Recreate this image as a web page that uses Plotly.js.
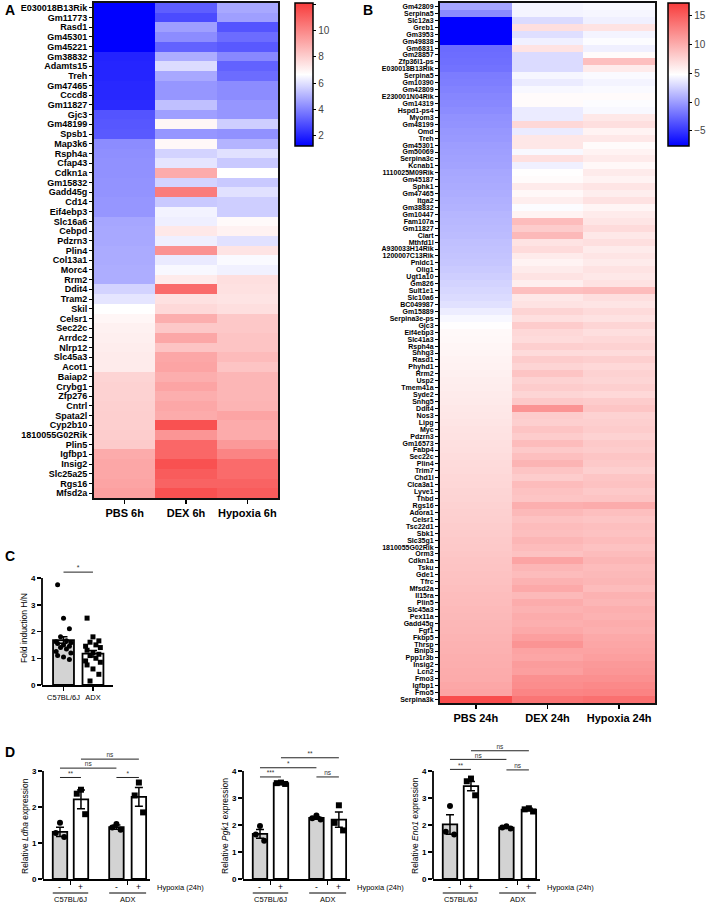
<!DOCTYPE html>
<html><head><meta charset="utf-8">
<script src="https://cdn.plot.ly/plotly-3.0.1.min.js"></script>
<style>html,body{margin:0;padding:0;background:#fff;}#chart{width:709px;height:904px;}</style>
</head><body><div id="chart"></div>
<script>
// ---------------- DATA ----------------
const colsA = ['PBS 6h', 'DEX 6h', 'Hypoxia 6h'];
const genesA = ['E030018B13Rik','Gm11773','Rasd1','Gm45301','Gm45221','Gm38832','Adamts15','Treh','Gm47465','Cccd8','Gm11827','Gjc3','Gm48199','Spsb1','Map3k6','Rsph4a','Cfap43','Cdkn1a','Gm15832','Gadd45g','Cd14','Eif4ebp3','Slc16a6','Cebpd','Pdzrn3','Plin4','Col13a1','Morc4','Rrm2','Ddit4','Tram2','Skil','Celsr1','Sec22c','Arrdc2','Nlrp12','Slc45a3','Acot1','Baiap2','Crybg1','Zfp276','Cntrl','Spata2l','Cyp2b10','1810055G02Rik','Plin5','Igfbp1','Insig2','Slc25a25','Rgs16','Mfsd2a'];
const pbs6h = [1.2,1.2,1.2,1.2,1.2,1.95,2.0,2.0,2.05,2.05,2.1,3.0,3.05,3.1,4.2,4.25,4.3,4.3,4.35,4.35,4.4,4.4,4.75,4.8,4.8,4.85,4.85,4.9,4.9,5.7,6.1,6.65,6.9,7.05,7.1,7.15,7.2,7.2,7.85,7.9,7.9,7.95,8.0,8.0,8.05,8.1,9.0,9.1,9.1,9.2,9.3];
const dex6h = [3.2,2.8,4.6,4.2,3.3,4.9,5.9,4.8,4.4,4.4,5.3,4.6,6.9,4.4,6.85,5.7,6.1,9.0,5.7,10.3,5.5,6.4,6.3,7.3,6.3,9.7,6.2,6.5,7.2,10.8,7.5,7.7,8.9,8.2,9.1,8.3,9.1,9.2,8.9,9.2,8.9,9.1,9.0,11.5,9.6,10.9,10.9,11.5,11.2,11.0,11.5];
const hyp6h = [4.8,4.6,3.0,3.5,3.1,4.1,3.3,3.5,4.2,4.2,4.4,4.4,5.6,4.3,5.05,6.0,5.5,6.65,5.5,6.0,5.6,5.6,6.8,7.0,6.0,7.4,6.55,6.35,7.55,7.5,7.4,7.55,8.2,8.2,8.3,8.3,8.55,8.3,8.7,8.7,8.7,8.75,9.2,9.0,9.0,9.5,10.1,10.8,10.8,11.0,11.2];

const colsB = ['PBS 24h', 'DEX 24h', 'Hypoxia 24h'];
const genesB = ['Gm42809','Serpina5','Slc12a3','Greb1','Gm3953','Gm49838','Gm6831','Gm28857','Zfp36l1-ps','E030018B13Rik','Serpina5','Gm10390','Gm42809','E230001N04Rik','Gm14319','Hspd1-ps4','Myom3','Gm48199','Omd','Treh','Gm45301','Gm50069','Serpina3c','Kcnab1','1110025M09Rik','Gm45187','Sphk1','Gm47465','Itga2','Gm38832','Gm10447','Fam107a','Gm11827','Ciart','Mthfd1l','A930033H14Rik','1200007C13Rik','Pnldc1','Olig1','Ugt1a10','Gm826','Sult1e1','Slc10a6','BC049987','Gm15889','Serpina3e-ps','Gjc3','Eif4ebp3','Slc41a3','Rsph4a','Snhg3','Rasd1','Phyhd1','Rrm2','Usp2','Tmem41a','Syde2','Snhg5','Ddit4','Nos3','Lipg','Myc','Pdzrn3','Gm16573','Fabp4','Sec22c','Plin4','Trim7','Chd1l','Clca3a1','Lyve1','Thbd','Rgs16','Adora1','Celsr1','Tsc22d1','Sbk1','Slc35g1','1810055G02Rik','Orm3','Cdkn1a','Tsku','Gde1','Tfrc','Mfsd2a','Il15ra','Plin5','Slc45a3','Pex11a','Gadd45g','Fgf1','Fkbp5','Thrsp','Bnip3','Ppp1r3b','Insig2','Lcn2','Fmo3','Igfbp1','Fmo5','Serpina3k'];
const pbs24h = [0.4,-0.9,-8.5,-8.5,-8.5,-8.5,-2.4,-2.3,-2.2,-2.1,-1.6,-1.5,-1.3,-1.1,-1.0,-0.8,-0.6,-0.5,-0.3,-0.2,0.0,0.1,0.2,0.3,0.5,0.6,0.7,0.8,0.9,1.0,1.2,1.3,1.4,1.5,1.7,1.8,1.9,2.0,2.2,2.4,2.6,2.8,3.0,3.3,3.9,4.4,4.8,5.1,5.2,5.3,5.4,5.5,5.6,5.7,5.8,5.9,6.0,6.1,6.2,6.3,6.4,6.5,6.6,6.7,6.8,6.9,7.0,7.1,7.2,7.3,7.4,7.5,7.6,7.7,7.8,7.9,8.0,8.1,8.2,8.3,8.4,8.5,8.6,8.7,8.8,8.9,9.0,9.1,9.2,9.3,9.4,9.5,9.6,9.7,9.8,9.9,10.0,10.1,10.3,10.5,16.0];
const dex24h = [4.3,4.2,3.0,6.8,3.2,4.0,6.5,3.0,3.0,3.0,4.3,3.8,4.4,5.0,5.0,3.8,3.8,7.2,3.8,6.3,6.3,4.4,6.7,4.0,4.8,5.0,6.0,5.2,5.8,4.6,5.5,9.0,8.0,9.2,6.5,7.0,6.0,5.5,6.0,6.5,5.8,8.8,6.2,6.5,7.5,6.8,8.0,7.2,7.0,7.8,7.0,8.0,7.5,8.5,7.6,8.0,7.4,8.2,11.5,8.0,7.8,8.5,8.0,9.0,8.2,8.8,9.5,8.5,8.0,9.0,8.6,8.4,9.8,9.2,8.6,9.0,8.8,9.4,9.0,8.6,10.5,9.4,9.0,9.6,10.2,9.2,10.0,9.6,10.0,9.8,10.2,10.8,11.5,10.6,10.4,11.0,10.8,11.8,12.0,12.5,13.5];
const hyp24h = [4.5,4.3,4.0,6.5,4.2,4.6,4.0,5.0,8.8,6.0,4.5,4.2,4.5,5.0,4.6,4.4,6.2,6.8,5.5,6.2,5.0,5.5,6.0,5.2,6.0,5.5,6.4,5.8,6.6,5.4,6.0,6.4,7.0,6.2,6.8,6.0,6.4,6.0,6.5,6.2,6.6,9.0,6.8,6.4,7.0,6.6,7.4,6.8,7.2,7.6,7.0,7.8,7.2,7.6,7.4,7.8,7.2,8.0,8.4,7.6,7.8,8.0,7.6,8.2,8.0,8.4,8.2,7.8,8.4,8.6,8.2,8.5,10.0,8.8,8.4,8.8,8.6,9.0,8.6,9.0,9.4,9.0,9.2,9.4,9.0,9.6,9.4,9.8,9.6,10.0,9.8,10.2,10.4,10.6,10.8,11.2,11.4,11.8,12.2,12.6,13.8];

// Panel C
const cGroups = ['C57BL/6J', 'ADX'];
const cMean = [1.68, 1.17];
const cSem = [0.12, 0.12];
const cPtsC57 = [3.75,2.5,2.1,1.8,1.65,1.62,1.58,1.55,1.5,1.45,1.4,1.35,1.25,1.2,1.1,1.05,0.95];
const cPtsADX = [2.5,1.8,1.65,1.6,1.5,1.45,1.4,1.3,1.2,1.15,1.1,1.0,0.9,0.85,0.75,0.6,0.4,0.15];
const cSigText = ['*'];
const cSigY = [4.22];

// Panel D
const dHypoxia = ['-', '+', '-', '+'];
const dStrains = ['C57BL/6J', 'ADX'];
const ldhaMean = [1.31, 2.21, 1.44, 2.28];
const ldhaSem = [0.13, 0.26, 0.06, 0.26];
const ldhaPts = [[1.56,1.28,1.17],[2.48,2.37,1.8],[1.53,1.43,1.37],[2.68,2.32,1.85]];
const ldhaSigFrom = [0, 0, 1, 2], ldhaSigTo = [1, 2, 3, 3];
const ldhaSigY = [2.82, 3.08, 3.33, 2.82];
const ldhaSigText = ['**', 'ns', 'ns', '*'];

const pgk1Mean = [1.67, 3.55, 2.26, 2.2];
const pgk1Sem = [0.16, 0.03, 0.05, 0.28];
const pgk1Pts = [[1.96,1.65,1.42],[3.57,3.55,3.52],[2.35,2.25,2.2],[2.73,2.08,1.8]];
const pgk1SigFrom = [0, 0, 1, 2], pgk1SigTo = [1, 2, 3, 3];
const pgk1SigY = [3.78, 4.12, 4.49, 3.78];
const pgk1SigText = ['***', '*', '**', 'ns'];

const eno1Mean = [2.02, 3.44, 1.9, 2.57];
const eno1Sem = [0.36, 0.17, 0.03, 0.05];
const eno1Pts = [[2.7,1.75,1.65],[3.72,3.62,3.1],[1.95,1.91,1.87],[2.62,2.58,2.5]];
const eno1SigFrom = [0, 0, 1, 2], eno1SigTo = [1, 2, 3, 3];
const eno1SigY = [4.06, 4.43, 4.75, 4.04];
const eno1SigText = ['**', 'ns', 'ns', 'ns'];

// ---------------- LAYOUT HELPERS ----------------
const W = 709, H = 904;
const X = p => p / W;
const Y = p => 1 - p / H;
const FONT = 'Liberation Sans, Arial, sans-serif';
const fnt = (size, bold, color) => ({family: FONT, size: size, weight: bold ? 'bold' : 'normal', color: color || '#000'});
const CS = [[0, 'rgb(0,0,255)'], [0.5, 'rgb(255,255,255)'], [1, 'rgb(248,60,60)']];

const data = [];
const shapes = [];
const annotations = [];

function heatAxes(xa, ya, xd, yd, cols, genes, yFont) {
  return {
    [xa]: {domain: xd, range: [-0.5, 2.5], tickvals: [0, 1, 2], ticktext: cols, ticks: 'outside', ticklen: 4, tickwidth: 1.5,
      tickcolor: '#000', showline: true, mirror: true, linewidth: 2, linecolor: '#111', showgrid: false, zeroline: false,
      tickfont: fnt(11, true)},
    [ya]: {domain: yd, range: [genes.length - 0.5, -0.5], tickvals: genes.map((g, i) => i), ticktext: genes, ticks: 'outside',
      ticklen: 3, tickwidth: 1, tickcolor: '#000', showline: true, mirror: true, linewidth: 2, linecolor: '#111',
      showgrid: false, zeroline: false, tickfont: fnt(yFont, true)}
  };
}

data.push({type: 'heatmap', xaxis: 'x', yaxis: 'y', x: [0, 1, 2], y: genesA.map((g, i) => i),
  z: genesA.map((g, i) => [pbs6h[i], dex6h[i], hyp6h[i]]), zmin: 1.2, zmax: 12.1, colorscale: CS, hoverinfo: 'skip',
  colorbar: {x: X(295), xanchor: 'left', xref: 'paper', y: Y(3), yanchor: 'top', yref: 'paper', len: 143 / H, lenmode: 'fraction',
    thickness: 18, thicknessmode: 'pixels', xpad: 0, ypad: 0, outlinewidth: 1.5, outlinecolor: '#000',
    tickvals: [2, 4, 6, 8, 10, 12], ticks: 'outside', ticklen: 3, tickwidth: 1, tickcolor: '#000', tickfont: fnt(10, false, '#444')}
});
data.push({type: 'heatmap', xaxis: 'x2', yaxis: 'y2', x: [0, 1, 2], y: genesB.map((g, i) => i),
  z: genesB.map((g, i) => [pbs24h[i], dex24h[i], hyp24h[i]]), zmin: -7.6, zmax: 17.1, colorscale: CS, hoverinfo: 'skip',
  colorbar: {x: X(668), xanchor: 'left', xref: 'paper', y: Y(3), yanchor: 'top', yref: 'paper', len: 143 / H, lenmode: 'fraction',
    thickness: 21, thicknessmode: 'pixels', xpad: 0, ypad: 0, outlinewidth: 1.5, outlinecolor: '#000',
    tickvals: [-5, 0, 5, 10, 15], ticks: 'outside', ticklen: 3, tickwidth: 1, tickcolor: '#000', tickfont: fnt(10, false, '#444')}
});

const layout = {
  width: W, height: H, margin: {l: 0, r: 0, t: 0, b: 0}, paper_bgcolor: '#fff', plot_bgcolor: 'rgba(0,0,0,0)',
  showlegend: false, font: {family: FONT}, shapes: shapes, annotations: annotations
};
Object.assign(layout, heatAxes('xaxis', 'yaxis', [X(94), X(278)], [Y(498), Y(3)], colsA, genesA, 9));
Object.assign(layout, heatAxes('xaxis2', 'yaxis2', [X(440), X(655)], [Y(703), Y(3)], colsB, genesB, 7));
layout.xaxis.anchor = 'y'; layout.yaxis.anchor = 'x';
layout.xaxis2.anchor = 'y2'; layout.yaxis2.anchor = 'x2';

function txt(text, xpx, ypx, size, bold, extra) {
  annotations.push(Object.assign({text: text, x: X(xpx), y: Y(ypx), xref: 'paper', yref: 'paper', xanchor: 'center',
    yanchor: 'middle', showarrow: false, font: fnt(size, bold)}, extra || {}));
}

// Panel letters
txt('<b>A</b>', 3, 10, 14, true, {xanchor: 'left'});
txt('<b>B</b>', 361, 10, 14, true, {xanchor: 'left'});
txt('<b>C</b>', 3, 556, 14, true, {xanchor: 'left'});
txt('<b>D</b>', 3, 752, 14, true, {xanchor: 'left'});

// y0px: pixel row of value 0, ppu: pixels per unit, yTop: last tick, ext: extended range top (room for significance bars)
function sideAxes(n, xd, xr, y0px, ppu, yTop, ext, xtv, xtt, xFont) {
  const ticks = [];
  for (let v = 0; v <= yTop; v++) ticks.push(v);
  layout['xaxis' + n] = {domain: xd, anchor: 'y' + n, range: xr, tickvals: xtv, ticktext: xtt, ticks: 'outside', ticklen: 4,
    tickwidth: 1.5, tickcolor: '#000', showline: true, linewidth: 1.8, linecolor: '#000', showgrid: false, zeroline: false,
    tickfont: xFont};
  layout['yaxis' + n] = {domain: [Y(y0px), Y(y0px - ext * ppu)], anchor: 'x' + n, range: [0, ext], tickvals: ticks,
    ticks: 'outside', ticklen: 4, tickwidth: 1.5, tickcolor: '#000', showline: false, showgrid: false, zeroline: false,
    tickfont: fnt(8, true)};
  shapes.push({type: 'line', xref: 'x' + n + ' domain', yref: 'y' + n, x0: 0, x1: 0, y0: 0, y1: yTop,
    line: {color: '#000', width: 1.8}});
}

function sigLines(n, bx, from, to, ys, texts, textSize) {
  for (let i = 0; i < ys.length; i++) {
    data.push({type: 'scatter', mode: 'lines', xaxis: 'x' + n, yaxis: 'y' + n, x: [bx[from[i]], bx[to[i]]], y: [ys[i], ys[i]],
      line: {color: '#222', width: 1}, cliponaxis: false, hoverinfo: 'skip'});
    data.push({type: 'scatter', mode: 'text', xaxis: 'x' + n, yaxis: 'y' + n, x: [(bx[from[i]] + bx[to[i]]) / 2], y: [ys[i]],
      text: [texts[i]], textposition: 'top center', textfont: fnt(textSize, false, '#333'), cliponaxis: false, hoverinfo: 'skip'});
  }
}

// ---------------- Panel C ----------------
const cX = [0, 1];
sideAxes(3, [X(42), X(113)], [-0.73, 1.68], 685, 26.75, 4, 4.6, cX, cGroups, fnt(7.5, false));
data.push({type: 'bar', xaxis: 'x3', yaxis: 'y3', x: cX, y: cMean, width: 0.71,
  marker: {color: ['#d3d3d3', '#ffffff'], line: {color: '#000', width: 1.8}},
  error_y: {type: 'data', array: cSem, visible: true, color: '#000', thickness: 1.5, width: 4}, hoverinfo: 'skip'});
const jitC = [-0.2, 0, 0.2, -0.1, 0.1, -0.25, 0.25];
data.push({type: 'scatter', mode: 'markers', xaxis: 'x3', yaxis: 'y3', x: cPtsC57.map((v, i) => cX[0] + jitC[i % jitC.length]),
  y: cPtsC57, marker: {symbol: 'circle', size: 5, color: '#000'}, cliponaxis: false, hoverinfo: 'skip'});
data.push({type: 'scatter', mode: 'markers', xaxis: 'x3', yaxis: 'y3', x: cPtsADX.map((v, i) => cX[1] + jitC[i % jitC.length]),
  y: cPtsADX, marker: {symbol: 'square', size: 5, color: '#000'}, cliponaxis: false, hoverinfo: 'skip'});
sigLines(3, cX, [0], [1], cSigY, cSigText, 7);
txt('Fold induction H/N', 24, 628, 8.5, false, {textangle: -90});

// ---------------- Panel D ----------------
const barX = [0, 1, 2.69, 3.76];
const barW = 0.69;
const jitD = [0, -0.2, 0.2];
const dSyms = ['circle', 'square', 'circle', 'square'];

function dPanel(n, axPx, title, yTop, ppu, ext, means, sems, pts, sf, st, sy, stx) {
  sideAxes(n, [X(axPx), X(axPx + 107)], [-0.81, 4.29], 879, ppu, yTop, ext, [0.5, 3.225], ['', ''], fnt(8, false));
  data.push({type: 'bar', xaxis: 'x' + n, yaxis: 'y' + n, x: barX, y: means, width: barW,
    marker: {color: ['#d3d3d3', '#ffffff', '#d3d3d3', '#ffffff'], line: {color: '#000', width: 1.8}},
    error_y: {type: 'data', array: sems, visible: true, color: '#000', thickness: 1.5, width: 4}, hoverinfo: 'skip'});
  for (let g = 0; g < 4; g++) {
    data.push({type: 'scatter', mode: 'markers', xaxis: 'x' + n, yaxis: 'y' + n, x: pts[g].map((v, i) => barX[g] + jitD[i]),
      y: pts[g], marker: {symbol: dSyms[g], size: 6, color: '#000'}, cliponaxis: false, hoverinfo: 'skip'});
  }
  sigLines(n, barX, sf, st, sy, stx, 6.5);
  txt('Relative <i>' + title + '</i> expression', axPx - 18, 826, 8.5, false, {textangle: -90});
  for (let g = 0; g < 4; g++) {
    annotations.push({text: dHypoxia[g], x: barX[g], xref: 'x' + n, y: Y(887), yref: 'paper', xanchor: 'center',
      yanchor: 'middle', showarrow: false, font: fnt(8.5, false)});
  }
  txt('Hypoxia (24h)', axPx + 112, 887, 7.5, false, {xanchor: 'left'});
  for (let s = 0; s < 2; s++) {
    const a = barX[2 * s] - barW / 2, b = barX[2 * s + 1] + barW / 2;
    shapes.push({type: 'line', xref: 'x' + n, yref: 'paper', x0: a, x1: b, y0: Y(893), y1: Y(893), line: {color: '#000', width: 1}});
    annotations.push({text: dStrains[s], x: (barX[2 * s] + barX[2 * s + 1]) / 2, xref: 'x' + n, y: Y(899.5), yref: 'paper',
      xanchor: 'center', yanchor: 'middle', showarrow: false, font: fnt(7.5, false)});
  }
}
dPanel(4, 43, 'Ldha', 3, 36, 3.65, ldhaMean, ldhaSem, ldhaPts, ldhaSigFrom, ldhaSigTo, ldhaSigY, ldhaSigText);
dPanel(5, 243, 'Pgk1', 4, 27, 5.0, pgk1Mean, pgk1Sem, pgk1Pts, pgk1SigFrom, pgk1SigTo, pgk1SigY, pgk1SigText);
dPanel(6, 433, 'Eno1', 4, 27, 5.0, eno1Mean, eno1Sem, eno1Pts, eno1SigFrom, eno1SigTo, eno1SigY, eno1SigText);

Plotly.newPlot('chart', data, layout, {staticPlot: true, displayModeBar: false});
</script></body></html>
